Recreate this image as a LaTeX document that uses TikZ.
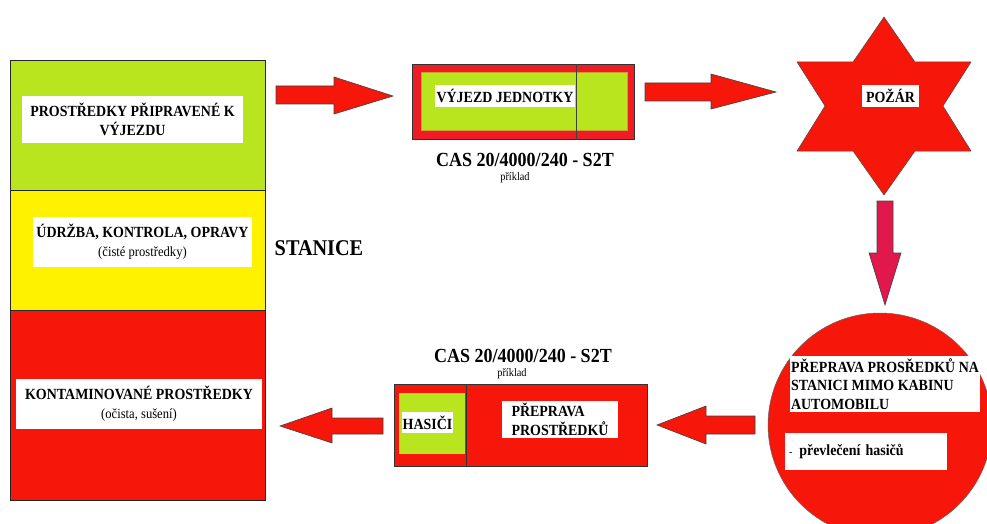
\documentclass[tikz,border=0pt]{standalone}
\usepackage{fontspec}
\setmainfont{Liberation Serif}
\newfontfamily\narrowserif[FakeStretch=0.9]{Liberation Serif}
\usetikzlibrary{positioning}
\definecolor{firered}{RGB}{246,22,10}
\definecolor{carred}{RGB}{238,28,37}
\definecolor{limefill}{RGB}{185,229,31}
\definecolor{signyellow}{RGB}{255,242,0}
\definecolor{crimsonfill}{RGB}{224,24,76}

\begin{document}
\begin{tikzpicture}[x=1pt, y=-1pt, node distance=0pt,
  zone/.style={rectangle, draw=black!85, line width=0.7pt, minimum width=255pt, outer sep=0pt, inner sep=0pt},
  tag/.style={rectangle, fill=white, inner sep=0pt, align=center, font=\narrowserif\fontsize{15.5}{18.5}\selectfont\bfseries},
  cas/.style={font=\narrowserif\fontsize{20}{22}\selectfont\bfseries, inner sep=0pt},
  example/.style={font=\narrowserif\fontsize{11.5}{12}\selectfont, inner sep=0pt},
  blockarrow/.style={fill=firered, draw=black!75, line width=0.6pt, line join=miter}]
  \useasboundingbox (0,0) rectangle (987,524);
  \clip (0,0) rectangle (987,524);

  % station: three zones
  \node[zone, fill=limefill, minimum height=130pt] (ready) at (137.5,125) {};
  \node[zone, fill=signyellow, minimum height=120pt] (upkeep) [below=of ready] {};
  \node[zone, fill=firered, minimum height=190pt] (dirty) [below=of upkeep] {};

  \node[tag, minimum width=221pt, minimum height=47pt] (readytag) at (132.5,119.5) {PROSTŘEDKY PŘIPRAVENÉ K\\VÝJEZDU};
  \node[tag, minimum width=219pt, minimum height=50pt] (upkeeptag) at (142.5,242) {ÚDRŽBA, KONTROLA, OPRAVY\\{\mdseries\fontsize{14}{16}\selectfont (čisté prostředky)}};
  \node[tag, minimum width=246pt, minimum height=50pt] (dirtytag) at (139,404) {KONTAMINOVANÉ PROSTŘEDKY\\{\mdseries\fontsize{14}{16}\selectfont (očista, sušení)}};

  \node[font=\narrowserif\fontsize{22.5}{24}\selectfont\bfseries, inner sep=0pt] (station) at (319,248) {STANICE};

  % departing vehicle
  \node[rectangle, fill=carred, draw=black!80, line width=0.7pt, minimum width=222pt, minimum height=75pt] (outcar) at (523,101.5) {};
  \node[rectangle, fill=limefill, draw={rgb,255:red,205;green,160;blue,40}, line width=0.6pt, minimum width=206pt, minimum height=58pt] (outcab) at (524,101) {};
  \draw[black!75, line width=0.7pt] (576,64) -- (576,139);
  \node[tag, minimum width=140pt, minimum height=22pt] (outtag) at (505,96) {VÝJEZD JEDNOTKY};
  \node[cas] (outcas) at (525,160) {CAS 20/4000/240 - S2T};
  \node[example] (outex) at (515,178) {příklad};

  % fire
  \filldraw[fill=firered, draw=black!70, line width=0.5pt]
    (884,17) -- (915,62) -- (971,62) -- (943,106) -- (971,151) -- (915,151)
    -- (884,195) -- (853,151) -- (797,151) -- (825,106) -- (797,62) -- (853,62) -- cycle;
  \node[tag, minimum width=57pt, minimum height=22pt] (fire) at (890.5,96) {POŽÁR};

  % transport to the station
  \filldraw[fill=firered, draw=black!60, line width=0.5pt] (880,425) circle (112);
  \node[tag, align=left, inner xsep=1pt, minimum height=56pt] (loadtag) at (885,384)
    {PŘEPRAVA PROSŘEDKŮ NA\\STANICI MIMO KABINU\\AUTOMOBILU};
  \node[tag, align=left, text width=154pt, inner xsep=4pt, minimum height=37pt] (changetag) at (866,451.5)
    {{\mdseries\fontsize{11}{12}\selectfont -}\hspace{7pt}převlečení hasičů};

  % returning vehicle
  \node[rectangle, fill=firered, draw=black!80, line width=0.7pt, minimum width=253pt, minimum height=82pt] (backcar) at (520.5,425) {};
  \node[rectangle, fill=limefill, minimum width=66pt, minimum height=61pt] (crew) at (432,423.5) {};
  \draw[black!80, line width=0.7pt] (466,384) -- (466,466);
  \node[tag, minimum width=51pt, minimum height=21pt] (crewtag) at (427.5,422.5) {HASIČI};
  \node[tag, align=left, minimum width=116pt, minimum height=37pt] (backtag) at (560,419.5) {PŘEPRAVA\\PROSTŘEDKŮ};
  \node[cas] (backcas) at (523,356) {CAS 20/4000/240 - S2T};
  \node[example] (backex) at (512,374) {příklad};

  % block arrows
  \filldraw[blockarrow] (276,86) -- (334,86) -- (334,77) -- (393,96) -- (334,114) -- (334,104) -- (276,104) -- cycle;
  \filldraw[blockarrow] (645,83) -- (711,83) -- (711,74) -- (776,92) -- (711,109) -- (711,101) -- (645,101) -- cycle;
  \filldraw[blockarrow, fill=crimsonfill] (877,201) -- (893,201) -- (893,253) -- (901,253) -- (885,305) -- (869,253) -- (877,253) -- cycle;
  \filldraw[blockarrow] (755,416) -- (706,416) -- (706,406) -- (657,425) -- (706,444) -- (706,434) -- (755,434) -- cycle;
  \filldraw[blockarrow] (383,418) -- (332,418) -- (332,408) -- (280,426) -- (332,443) -- (332,434) -- (383,434) -- cycle;
\end{tikzpicture}
\end{document}
